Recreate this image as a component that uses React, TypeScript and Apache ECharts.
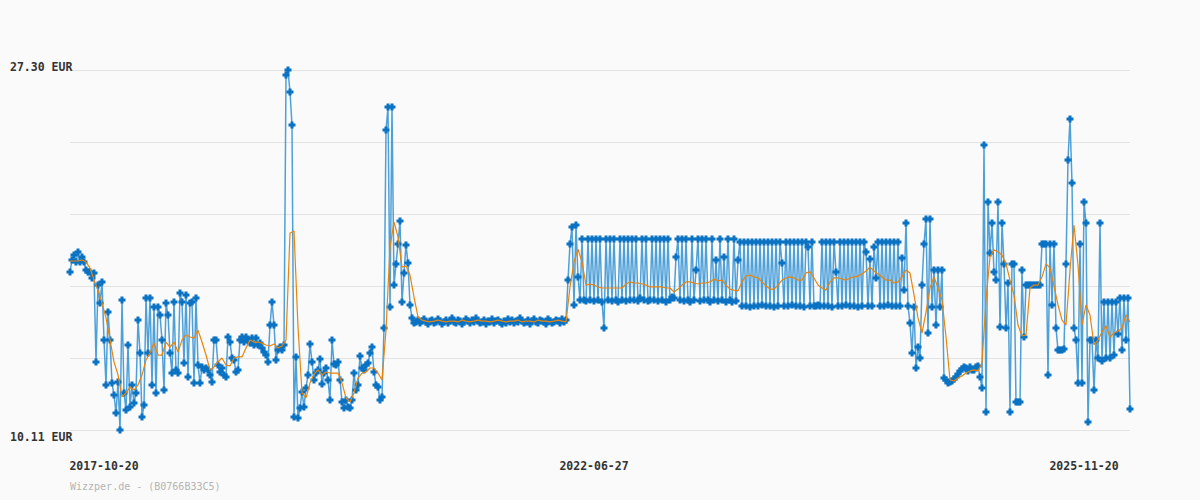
import React, { useEffect, useRef } from "react";
import * as echarts from "echarts";

const yMin = 10.11;
const yMax = 27.3;
const yTopLabel = "27.30 EUR";
const yBottomLabel = "10.11 EUR";
const xTickLabels = ["2017-10-20", "2022-06-27", "2025-11-20"];
const xTickIndex = [17, 262, 507];
const sourceNote = "Wizzper.de - (B0766B33C5)";

// price observations (EUR), evenly spaced along the category axis
const priceSeries = [
  // part 1
  17.66, 18.23, 18.47, 18.13, 18.61, 18.13, 18.37, 18.13, 17.75, 17.66,
  17.66, 17.37, 17.61, 13.36, 17.03, 16.17, 17.18, 14.41, 12.26, 15.74,
  14.41, 12.35, 11.78, 10.92, 12.40, 10.11, 16.32, 11.88, 11.07, 14.17,
  11.21, 12.26, 11.40, 11.88, 15.36, 13.79, 10.73, 11.30, 16.41, 13.79,
  16.41, 12.26, 15.98, 11.88, 15.98, 15.60, 14.41, 12.02, 16.17, 15.60,
  13.79, 12.83, 16.22, 12.98, 12.83, 16.65, 16.22, 13.31, 16.56, 12.64,
  16.17, 16.22, 12.35, 16.41, 13.21, 12.35, 13.12, 12.98, 13.07, 12.98,
  12.74, 12.40,
  // part 2
  14.41, 14.41, 13.21, 12.88, 13.07, 12.74, 12.64, 14.55, 14.31, 13.55,
  13.45, 12.88, 12.98, 14.41, 14.55, 14.31, 14.55, 14.41, 14.26, 14.50,
  14.17, 14.50, 14.17, 14.26, 14.03, 13.83, 13.69, 13.36, 15.12, 16.22,
  15.12, 13.45, 13.93, 14.07, 13.93, 14.17,
  // part 3
  27.06, 27.30, 26.25, 24.67, 10.73, 13.60, 10.68, 11.16, 11.92, 11.21,
  12.12, 12.74, 14.22, 13.36, 12.50, 12.83, 12.98, 13.50, 12.31, 12.83,
  13.07, 12.50, 11.54, 14.41, 13.26, 13.21, 13.36, 12.50, 11.45, 11.16,
  11.54, 11.21, 11.16, 11.54, 12.83, 12.02, 12.26, 13.64, 13.07, 12.98,
  13.21, 13.31, 13.79, 14.07, 12.88, 12.26, 12.16, 11.54, 11.69, 14.98,
  24.44, 25.53, 15.98, 25.53, 17.03, 18.04, 18.99, 20.09, 16.22, 17.61,
  18.94, 18.08, 16.08, 15.46, 15.22,
  // part 4
  15.27, 15.36, 15.22, 15.31, 15.41, 15.27, 15.17, 15.31, 15.36, 15.22,
  15.27, 15.41, 15.31, 15.17, 15.27, 15.36, 15.22, 15.31, 15.46, 15.27,
  15.22, 15.36, 15.31, 15.17, 15.27, 15.41, 15.31, 15.22, 15.36, 15.27,
  15.46, 15.31, 15.22, 15.27, 15.36, 15.17, 15.31, 15.27, 15.41, 15.22,
  15.31, 15.36, 15.27, 15.17, 15.31, 15.22, 15.41, 15.27, 15.36, 15.22,
  15.31, 15.27, 15.46, 15.31, 15.22, 15.27, 15.36, 15.17, 15.31, 15.41,
  15.27, 15.22, 15.36, 15.31, 15.27, 15.17, 15.41, 15.31, 15.22, 15.27,
  15.36, 15.31, 15.22, 15.41, 15.27, 15.36,
  // part 5
  17.27, 18.99, 19.80, 16.08, 19.90, 17.42, 16.32, 19.23, 16.32, 16.27,
  19.23, 16.32, 19.23, 16.27, 19.23, 16.32, 19.23, 16.22, 14.98, 19.23,
  16.32, 19.23, 16.27, 19.23, 16.32, 16.22, 19.23, 16.32, 19.23, 16.27,
  19.23, 16.32, 19.23, 16.32, 19.23, 16.27, 16.41, 19.23, 16.32, 19.23,
  16.27, 16.32, 19.23, 16.32, 19.23, 16.27, 19.23, 16.32, 19.23, 16.22,
  19.23, 16.32, 16.46, 16.41, 18.37, 19.23, 16.32, 19.23, 16.27, 19.23,
  16.32, 16.22, 19.23, 16.32, 17.75, 19.23, 16.27, 19.23, 16.32, 19.23,
  16.32, 16.22, 19.23, 16.32, 18.23, 16.27, 19.23, 16.32, 18.37, 16.22,
  19.23, 16.32, 16.22, 19.23, 16.27, 18.23, 19.09,
  // part 6
  16.03, 19.09, 16.03, 19.09, 15.98, 19.09, 16.03, 19.09, 16.03, 19.09,
  16.08, 19.09, 16.03, 19.09, 16.03, 19.09, 15.98, 19.09, 16.03, 19.09,
  18.08, 16.03, 19.09, 16.03, 19.09, 16.08, 19.09, 16.03, 19.09, 16.03,
  19.09, 15.98, 19.09, 18.85, 16.03, 19.09, 16.03, 16.03, 16.08, 16.03,
  19.09, 16.03, 19.09, 16.03, 19.09, 15.98, 19.09, 17.66, 16.03, 19.09,
  16.03, 19.09, 16.08, 19.09, 16.03, 19.09, 16.03, 19.09, 15.98, 19.09,
  16.03, 19.09, 18.61, 16.03, 18.27, 16.03, 18.85, 17.37, 19.09, 16.03,
  19.09, 16.03, 19.09, 16.08, 19.09, 16.03, 19.09, 16.03, 19.09, 16.03,
  18.32, 16.79,
  // part 7
  19.99, 16.03, 15.22, 13.79, 15.98, 13.07, 14.07, 13.55, 17.03, 18.99,
  20.19, 14.74, 20.19, 15.98, 17.75, 15.12, 17.75, 15.98, 17.75, 12.59,
  12.50, 12.35, 12.40, 12.45, 12.54, 12.64, 12.78, 12.93, 13.02, 13.12,
  13.07, 12.93, 13.12, 12.98, 12.98, 13.12, 13.17, 12.64,
  // part 8
  12.12, 23.72, 10.97, 21.00, 18.56, 19.99, 17.66, 17.27, 21.00, 15.03,
  19.99, 18.04, 14.98, 17.13, 10.97, 18.04, 18.04, 11.45, 11.45, 11.45,
  17.75, 14.55, 17.03, 17.03, 17.03, 17.03, 17.03, 17.03, 17.03, 17.03,
  18.99, 18.99, 18.99, 12.74, 18.99, 16.08, 18.99, 14.98, 13.93, 13.93,
  13.93, 13.98, 18.04, 23.00, 24.96, 21.91, 14.98, 14.41, 12.35, 18.99,
  12.35, 21.00, 19.99, 10.49, 14.41, 14.41, 12.02, 14.41, 13.55, 19.99,
  13.40, 16.22, 13.55, 16.22, 13.55, 16.22, 13.69, 16.22, 14.69, 16.41,
  13.93, 16.41, 14.41, 16.41, 11.11,
];

// moving average (EUR), half as many samples, spanning the same range
const averageSeries = [
  18.18, 18.18, 18.18, 18.23, 18.13, 17.85, 17.27, 16.79, 16.17, 15.46,
  14.41, 13.36, 12.74, 11.69, 11.88, 12.16, 12.02, 12.26, 12.74, 13.45,
  13.79, 14.26, 13.69, 13.69, 14.31, 14.07, 14.31, 13.83, 14.41, 14.65,
  14.55, 14.50, 14.88, 14.31, 13.69, 12.98, 13.12, 13.36, 13.55, 13.21,
  13.17, 13.55, 13.60, 13.60, 14.03, 14.41, 14.31, 14.31, 14.26, 14.17,
  14.12, 14.22, 14.03, 14.12, 14.41,
  19.52, 19.61, 15.03, 11.88, 11.64, 12.35, 12.78, 12.98, 12.74, 12.88,
  12.83, 12.83, 12.83, 12.35, 11.64, 11.45, 11.88, 12.59, 12.83, 12.88,
  13.07, 13.07, 12.83, 12.50, 14.88, 18.85, 20.04, 19.33, 17.89, 17.94,
  17.51, 16.46, 15.51, 15.36,
  15.31, 15.27, 15.31, 15.36, 15.31, 15.27, 15.31, 15.31, 15.27, 15.36,
  15.31, 15.27, 15.31, 15.36, 15.31, 15.31, 15.27, 15.31, 15.36, 15.31,
  15.27, 15.31, 15.31, 15.36, 15.27, 15.31, 15.31, 15.27, 15.36, 15.31,
  15.31, 15.27, 15.31, 15.36, 15.31, 15.27,
  16.94, 18.13, 18.75, 18.13, 17.03, 17.08, 17.03, 16.94, 16.89, 16.89,
  16.89, 16.89, 16.89, 16.89, 17.08, 17.18, 17.13, 17.13, 17.08, 17.03,
  16.94, 16.94, 16.94, 16.94, 16.89, 16.89, 16.70, 16.84, 17.03, 17.18,
  17.18, 17.13, 17.08, 17.13, 17.13, 17.18, 17.32, 17.23, 17.27, 17.03,
  16.84, 16.79, 16.75,
  17.18, 17.46, 17.51, 17.42, 17.37, 17.18, 16.99, 16.84, 16.84, 17.03,
  17.27, 17.37, 17.42, 17.37, 17.27, 17.27, 17.61, 17.66, 17.37, 17.03,
  16.89, 16.79, 17.18, 17.37, 17.37, 17.32, 17.27, 17.37, 17.42, 17.46,
  17.56, 17.70, 17.89, 17.70, 17.56, 17.42, 17.27, 17.27, 17.13, 17.18,
  17.42, 17.75,
  17.61, 16.56, 15.46, 14.74, 15.74, 16.89, 17.42, 16.89, 16.32, 14.55,
  12.50, 12.45, 12.59, 12.69, 12.83, 12.93, 12.98, 12.93, 13.31, 16.32,
  18.37, 18.71, 18.61, 18.47, 18.04, 17.27, 16.56, 15.12, 14.60, 14.65,
  16.89, 17.03, 17.03, 17.42, 18.04, 17.85, 16.99, 16.08, 15.36, 15.12,
  17.75, 19.90, 17.99, 15.12, 16.08, 15.60, 14.17, 14.41, 14.79, 15.08,
  14.55, 14.74, 14.84, 14.98, 15.60, 15.27,
];

const FONT = "'DejaVu Sans Mono', 'Liberation Mono', monospace";
const plusSymbol = "path://M2,0H5V2H7V5H5V7H2V5H0V2H2Z";

export default function App() {
  const ref = useRef<HTMLDivElement>(null);

  useEffect(() => {
    document.body.style.margin = "0";
    document.body.style.background = "#fafafa";
    if (!ref.current) return;
    const chart = echarts.init(ref.current, undefined, { renderer: "svg" });

    const priceCats = priceSeries.map((_, i) => String(i));
    const avgCats = averageSeries.map((_, i) => String(i));

    chart.setOption({
      animation: false,
      backgroundColor: "#fafafa",
      grid: { left: 70, right: 70, top: 70, bottom: 70 },
      graphic: [
        {
          type: "text",
          left: 70,
          top: 481,
          style: {
            text: sourceNote,
            fill: "#b4b4b4",
            font: `10px ${FONT}`,
          },
        },
      ],
      xAxis: [
        {
          type: "category",
          data: priceCats,
          boundaryGap: false,
          axisLine: { show: false },
          axisTick: { show: false },
          splitLine: { show: false },
          axisLabel: {
            interval: (index: number) => xTickIndex.indexOf(index) >= 0,
            formatter: (_v: string, index: number) => {
              const k = xTickIndex.indexOf(index);
              return k >= 0 ? xTickLabels[k] : "";
            },
            margin: 30,
            color: "#333",
            fontFamily: FONT,
            fontWeight: "bold",
            fontSize: 11.5,
          },
        },
        {
          type: "category",
          data: avgCats,
          boundaryGap: false,
          show: false,
        },
      ],
      yAxis: [
        {
          type: "value",
          min: yMin,
          max: yMax,
          splitLine: { show: false },
          axisLine: { show: false },
          axisTick: { show: false },
          axisLabel: {
            showMinLabel: true,
            showMaxLabel: true,
            align: "left",
            margin: 60,
            color: "#333",
            fontFamily: FONT,
            fontWeight: "bold",
            fontSize: 11.5,
            formatter: (v: number) => {
              if (Math.abs(v - yMax) < 1e-6) return `{t|${yTopLabel}}`;
              if (Math.abs(v - yMin) < 1e-6) return `{b|${yBottomLabel}}`;
              return "";
            },
            rich: {
              t: {
                padding: [0, 0, 6, 0],
                color: "#333",
                fontFamily: FONT,
                fontWeight: "bold",
                fontSize: 11.5,
              },
              b: {
                padding: [14, 0, 0, 0],
                color: "#333",
                fontFamily: FONT,
                fontWeight: "bold",
                fontSize: 11.5,
              },
            },
          },
        },
        {
          type: "value",
          min: 0,
          max: 5,
          interval: 1,
          position: "right",
          axisLine: { show: false },
          axisTick: { show: false },
          axisLabel: { show: false },
          splitLine: { show: true, lineStyle: { color: "#e3e3e3", width: 1 } },
        },
      ],
      series: [
        {
          type: "line",
          xAxisIndex: 0,
          yAxisIndex: 0,
          data: priceSeries,
          showAllSymbol: true,
          symbol: plusSymbol,
          symbolSize: 7,
          itemStyle: { color: "#0a72c2" },
          lineStyle: { color: "rgba(20,130,205,0.75)", width: 1.5 },
          z: 2,
        },
        {
          type: "line",
          xAxisIndex: 1,
          yAxisIndex: 0,
          data: averageSeries,
          showSymbol: false,
          symbol: "none",
          lineStyle: { color: "#e8840c", width: 1.2 },
          z: 3,
        },
      ],
    });

    return () => chart.dispose();
  }, []);

  return <div ref={ref} style={{ width: 1200, height: 500 }} />;
}
